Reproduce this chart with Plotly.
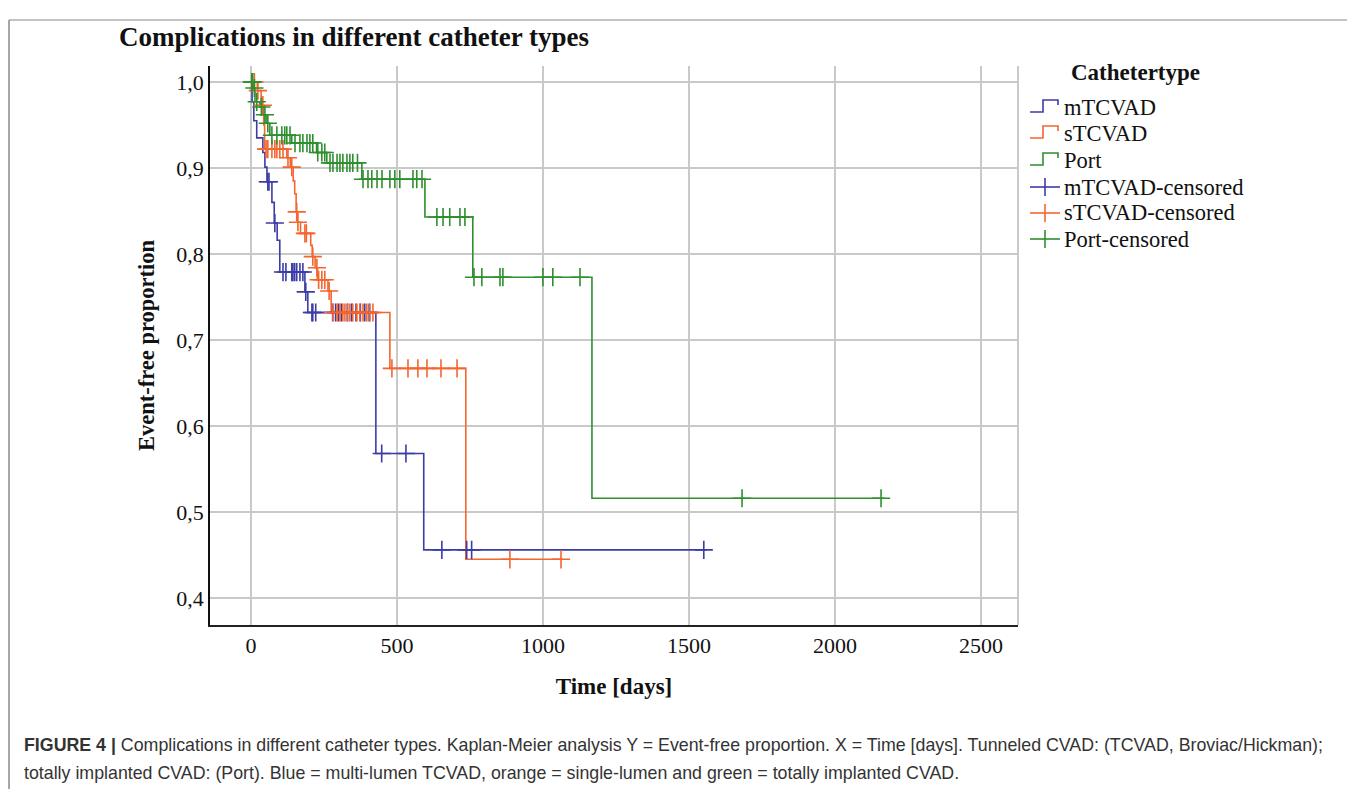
import numpy as np
import plotly.graph_objects as go

# ---------------- data ----------------
# Kaplan-Meier step functions: event times (days) and survival after each event
m_times = [0, 4, 10, 20, 41, 48, 55, 72, 80, 90, 99, 185, 195, 428, 592]
m_surv = [1.000, 0.977, 0.955, 0.935, 0.918, 0.901, 0.884, 0.860, 0.836, 0.816, 0.779, 0.756, 0.732, 0.568, 0.456]
m_last = 1560
m_cens = [58, 62, 82, 110, 120, 140, 144, 150, 157, 168, 178, 188, 209, 212, 222, 280, 290,
          300, 310, 330, 345, 360, 375, 390, 405, 448, 531, 654, 739, 756, 1551]

s_times = [0, 22, 35, 44, 47, 123, 135, 145, 150, 155, 159, 170, 205, 210, 220, 228, 264, 275, 476, 736]
s_surv = [1.000, 0.990, 0.973, 0.950, 0.922, 0.912, 0.901, 0.885, 0.870, 0.849, 0.837, 0.824,
          0.810, 0.797, 0.784, 0.770, 0.757, 0.732, 0.667, 0.445]
s_last = 1068
s_cens = [5, 12, 24, 41, 52, 58, 72, 82, 89, 99, 110, 127, 140, 157, 161, 185, 190, 212, 226, 232,
          243, 253, 268, 281, 295, 305, 315, 322, 332, 339, 349, 363, 373, 384, 397, 408, 418,
          483, 538, 572, 603, 651, 706, 887, 1062]

p_times = [0, 8, 14, 30, 42, 52, 65, 140, 225, 260, 380, 596, 760, 1168]
p_surv = [1.000, 0.993, 0.977, 0.971, 0.962, 0.952, 0.938, 0.929, 0.918, 0.906, 0.887, 0.843, 0.773, 0.516]
p_last = 2170
p_cens = [3, 6, 12, 20, 36, 48, 58, 72, 89, 106, 116, 123, 134, 151, 168, 178, 192, 202, 212, 229,
          243, 253, 271, 281, 295, 305, 315, 329, 339, 349, 365, 384, 401, 414, 432, 449, 476, 493,
          510, 555, 568, 586, 637, 658, 681, 716, 733, 764, 791, 853, 863, 1000, 1034, 1127, 1682, 2158]

x_ticks = [0, 500, 1000, 1500, 2000, 2500]
y_ticks = [0.4, 0.5, 0.6, 0.7, 0.8, 0.9, 1.0]
y_labels = ["0,4", "0,5", "0,6", "0,7", "0,8", "0,9", "1,0"]

groups = [
    ("mTCVAD", m_times, m_surv, m_last, m_cens, "#3c3ca8"),
    ("sTCVAD", s_times, s_surv, s_last, s_cens, "#f4662f"),
    ("Port", p_times, p_surv, p_last, p_cens, "#2f8f2f"),
]

# ---------------- layout geometry (reference pixel coords, page body has 8px margin) ----------------
OFF = 8
W, H = 1355 - OFF, 789 - OFF
L, R, T, B = 210, 1018, 66, 625  # plot area in reference pixels


def px_x(px):
    return (px - L) / (R - L)


def px_y(py):
    return (B - py) / (B - T)


SERIF = "Liberation Serif, Times New Roman, serif"
SANS = "Liberation Sans, Arial, sans-serif"

fig = go.Figure()

# step curves
for name, t, s, last, cens, col in groups:
    fig.add_trace(go.Scatter(
        x=list(t) + [last], y=list(s) + [s[-1]], mode="lines", line_shape="hv",
        line=dict(color=col, width=1.6), name=name, showlegend=False,
    ))

# censored marks
for name, t, s, last, cens, col in groups:
    idx = np.searchsorted(np.array(t), np.array(cens), side="right") - 1
    cy = np.array(s)[idx]
    fig.add_trace(go.Scatter(
        x=cens, y=cy, mode="markers", showlegend=False, name=name + "-censored",
        marker=dict(symbol="cross-thin-open", size=13, color=col, line=dict(color=col, width=1.6)),
    ))

fig.update_layout(
    width=W, height=H,
    margin=dict(l=L - OFF, r=(1355 - R), t=T - OFF, b=(789 - B), pad=0),
    paper_bgcolor="white", plot_bgcolor="white",
    showlegend=False,
    xaxis=dict(
        range=[-140, 2627], tickvals=x_ticks, ticktext=[str(v) for v in x_ticks],
        showgrid=True, gridcolor="#c9c9c9", gridwidth=2, zeroline=False,
        showline=True, linecolor="#222", linewidth=1.5, ticks="", ticklen=0,
        tickfont=dict(family=SERIF, size=22, color="#111"),
        title=dict(text="<b>Time [days]</b>", font=dict(family=SERIF, size=23, color="#111"), standoff=21),
    ),
    yaxis=dict(
        range=[0.3686, 1.0186], tickvals=y_ticks, ticktext=y_labels,
        showgrid=True, gridcolor="#c9c9c9", gridwidth=2, zeroline=False,
        showline=True, linecolor="#111", linewidth=1.5, ticks="", ticklen=0,
        tickfont=dict(family=SERIF, size=22, color="#111"),
        title=dict(text="<b>Event-free proportion</b>", font=dict(family=SERIF, size=22.5, color="#111"), standoff=15),
    ),
)

# right plot border
fig.add_shape(type="line", xref="paper", yref="paper", x0=1, x1=1, y0=0, y1=1,
              line=dict(color="#c9c9c9", width=2))

# outer frame (left and top)
fig.add_shape(type="line", xref="paper", yref="paper", x0=px_x(9), x1=px_x(9), y0=px_y(800), y1=px_y(20),
              line=dict(color="#888", width=1.5))
fig.add_shape(type="line", xref="paper", yref="paper", x0=px_x(9), x1=px_x(1360), y0=px_y(20), y1=px_y(20),
              line=dict(color="#888", width=1.2))

# chart title
fig.add_annotation(text="<b>Complications in different catheter types</b>", xref="paper", yref="paper",
                   x=px_x(117), y=px_y(37), xanchor="left", yanchor="middle", showarrow=False,
                   font=dict(family=SERIF, size=27, color="#111"))

# ---------------- legend (drawn manually, SPSS style) ----------------
fig.add_annotation(text="<b>Cathetertype</b>", xref="paper", yref="paper",
                   x=px_x(1069), y=px_y(73), xanchor="left", yanchor="middle", showarrow=False,
                   font=dict(family=SERIF, size=23, color="#111"))
leg_y = [107, 133, 160, 187, 213, 239]
for i, (name, t, s, last, cens, col) in enumerate(groups):
    yc = leg_y[i]
    pts = [(1030, yc + 5), (1043, yc + 5), (1043, yc - 7), (1058, yc - 7), (1058, yc - 2)]
    path = "M " + " L ".join(f"{px_x(a):.5f},{px_y(b):.5f}" for a, b in pts)
    fig.add_shape(type="path", xref="paper", yref="paper", path=path, line=dict(color=col, width=1.6))
    fig.add_annotation(text=name, xref="paper", yref="paper", x=px_x(1062), y=px_y(yc),
                       xanchor="left", yanchor="middle", showarrow=False,
                       font=dict(family=SERIF, size=22.5, color="#111"))
for i, (name, t, s, last, cens, col) in enumerate(groups):
    yc = leg_y[i + 3]
    fig.add_shape(type="line", xref="paper", yref="paper", x0=px_x(1030), x1=px_x(1060),
                  y0=px_y(yc), y1=px_y(yc), line=dict(color=col, width=1.6))
    fig.add_shape(type="line", xref="paper", yref="paper", x0=px_x(1045), x1=px_x(1045),
                  y0=px_y(yc - 9), y1=px_y(yc + 9), line=dict(color=col, width=1.6))
    fig.add_annotation(text=name + "-censored", xref="paper", yref="paper", x=px_x(1062), y=px_y(yc),
                       xanchor="left", yanchor="middle", showarrow=False,
                       font=dict(family=SERIF, size=22.5, color="#111"))

# caption
fig.add_annotation(
    text="<b>FIGURE 4 |</b> Complications in different catheter types. Kaplan-Meier analysis Y = Event-free proportion. "
         "X = Time [days]. Tunneled CVAD: (TCVAD, Broviac/Hickman);",
    xref="paper", yref="paper", x=px_x(22), y=px_y(745), xanchor="left", yanchor="middle",
    showarrow=False, font=dict(family=SANS, size=17.8, color="#333"))
fig.add_annotation(
    text="totally implanted CVAD: (Port). Blue = multi-lumen TCVAD, orange = single-lumen and green = totally implanted CVAD.",
    xref="paper", yref="paper", x=px_x(22), y=px_y(773), xanchor="left", yanchor="middle",
    showarrow=False, font=dict(family=SANS, size=17.8, color="#333"))

fig.write_html("out.html")
